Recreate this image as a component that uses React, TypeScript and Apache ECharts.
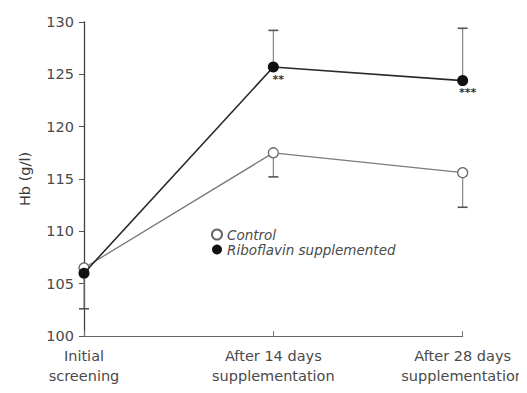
import React, { useEffect, useRef } from "react";
import * as echarts from "echarts";

// Time points of the trial
const categories = ["Initial\nscreening", "After 14 days\nsupplementation", "After 28 days\nsupplementation"];

// Mean haemoglobin (g/l)
const controlMeans = [106.5, 117.5, 115.6];
const riboMeans = [106.0, 125.7, 124.4];

// Error bar ends: control drawn downward, riboflavin drawn upward
const controlLower = [102.6, 115.2, 112.3];
const riboUpper: (number | null)[] = [null, 129.2, 129.4];

// Significance markers for the supplemented group
const riboStars = ["", "**", "***"];

const yTicks = [100, 105, 110, 115, 120, 125, 130];

const FONT = "DejaVu Sans";
const TEXT = "#4a4a4a";

export default function App() {
  const ref = useRef<HTMLDivElement>(null);

  useEffect(() => {
    if (!ref.current) return;
    const chart = echarts.init(ref.current, undefined, { renderer: "svg" });

    const errData: [number, number, number][] = [];
    categories.forEach((_, i) => {
      errData.push([i, controlMeans[i], controlLower[i]]);
      const up = riboUpper[i];
      if (up != null) errData.push([i, riboMeans[i], up]);
    });

    chart.setOption({
      animation: false,
      backgroundColor: "#ffffff",
      textStyle: { fontFamily: FONT, color: TEXT },
      grid: { left: 84, right: 64, top: 22, bottom: 57, containLabel: false },
      legend: {
        orient: "vertical",
        left: 206,
        top: 222,
        icon: "circle",
        itemWidth: 10,
        itemHeight: 10,
        itemGap: 0,
        data: ["Control", "Riboflavin supplemented"],
        textStyle: { fontFamily: FONT, fontSize: 13.5, lineHeight: 15, color: TEXT, fontStyle: "italic" },
      },
      xAxis: {
        type: "category",
        data: categories,
        boundaryGap: false,
        axisLine: { lineStyle: { color: "#666", width: 1 } },
        axisTick: { inside: true, length: 5, lineStyle: { color: "#777" } },
        axisLabel: {
          interval: 0,
          margin: 10,
          fontFamily: FONT,
          fontSize: 14.5,
          color: TEXT,
          lineHeight: 20,
        },
      },
      yAxis: {
        type: "value",
        min: yTicks[0],
        max: yTicks[yTicks.length - 1],
        interval: 5,
        name: "Hb (g/l)",
        nameLocation: "middle",
        nameGap: 52,
        nameTextStyle: { fontFamily: FONT, fontSize: 14.5, color: "#3a3a3a" },
        splitLine: { show: false },
        axisLine: { show: true, lineStyle: { color: "#444", width: 1.3 } },
        axisTick: { show: true, length: 5, lineStyle: { color: "#555" } },
        axisLabel: { margin: 10, fontFamily: FONT, fontSize: 14.5, color: TEXT },
      },
      series: [
        {
          type: "custom",
          name: "err",
          z: 1,
          silent: true,
          data: errData,
          renderItem: (params: any, api: any) => {
            const x = api.value(0);
            const p0 = api.coord([x, api.value(1)]);
            const p1 = api.coord([x, api.value(2)]);
            const half = 5;
            const style = { stroke: "#7a7a7a", lineWidth: 1.1 };
            return {
              type: "group",
              children: [
                { type: "line", shape: { x1: p0[0], y1: p0[1], x2: p1[0], y2: p1[1] }, style },
                { type: "line", shape: { x1: p1[0] - half, y1: p1[1], x2: p1[0] + half, y2: p1[1] }, style: { stroke: "#555", lineWidth: 1.6 } },
              ],
            };
          },
        },
        {
          type: "line",
          name: "Control",
          z: 3,
          data: controlMeans,
          symbol: "circle",
          symbolSize: 10,
          itemStyle: { color: "#ffffff", borderColor: "#666", borderWidth: 1.3 },
          lineStyle: { color: "#7a7a7a", width: 1.3 },
        },
        {
          type: "line",
          name: "Riboflavin supplemented",
          z: 4,
          data: riboMeans,
          symbol: "circle",
          symbolSize: 11,
          itemStyle: { color: "#111111", borderColor: "#111111", borderWidth: 0 },
          lineStyle: { color: "#2a2a2a", width: 1.6 },
          label: {
            show: true,
            position: "bottom",
            distance: 1,
            offset: [5, 0],
            fontFamily: FONT,
            fontSize: 11,
            fontWeight: "bold",
            color: "#333",
            formatter: (p: any) => riboStars[p.dataIndex],
          },
        },
      ],
    });

    return () => chart.dispose();
  }, []);

  return <div ref={ref} style={{ width: 527, height: 393, margin: -8 }} />;
}
